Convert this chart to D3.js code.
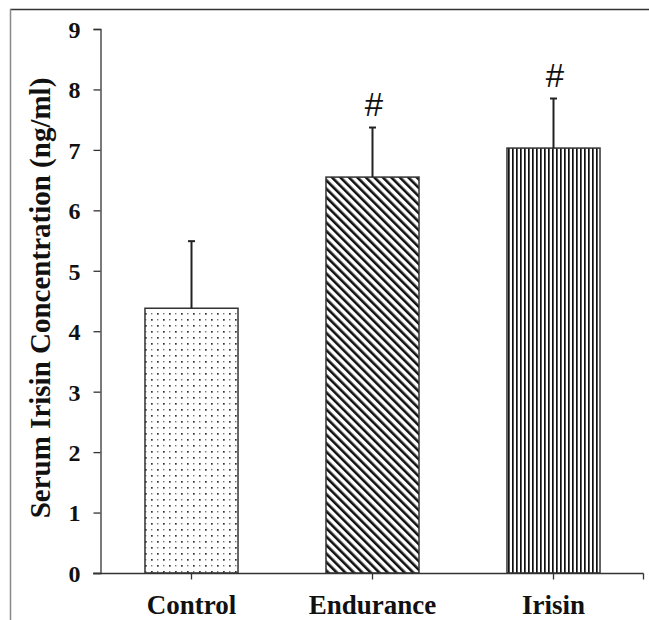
<!DOCTYPE html>
<html><head><meta charset="utf-8">
<script src="https://cdn.jsdelivr.net/npm/d3@7"></script>
<style>body{margin:0;background:#fff}svg{display:block}</style>
</head><body><svg id="c" width="649" height="620"></svg>
<script>
const categories = ["Control","Endurance","Irisin"];
const means = [4.38, 6.55, 7.03];
const errors = [1.11, 0.82, 0.82];
const marks = ["", "#", "#"];
const yTicks = [0,1,2,3,4,5,6,7,8,9];
const patterns = ["dots","diag","vert"];

const FONT = "'Liberation Serif','Times New Roman',serif";
const svg = d3.select("#c");
const defs = svg.append("defs");
// dots
const pd = defs.append("pattern").attr("id","dots").attr("patternUnits","userSpaceOnUse").attr("width",12).attr("height",12);
pd.append("rect").attr("width",12).attr("height",12).attr("fill","#fff");
[[1,1],[7,7]].forEach(([x,y])=>pd.append("rect").attr("x",x).attr("y",y).attr("width",1.7).attr("height",1.7).attr("fill","#333"));
[[7,1],[1,7]].forEach(([x,y])=>pd.append("rect").attr("x",x).attr("y",y).attr("width",1.4).attr("height",1.4).attr("fill","#777"));
// diagonal
const pg = defs.append("pattern").attr("id","diag").attr("patternUnits","userSpaceOnUse").attr("width",6).attr("height",6).attr("patternTransform","rotate(-45)");
pg.append("rect").attr("width",6).attr("height",6).attr("fill","#fff");
pg.append("rect").attr("x",0).attr("y",0).attr("width",2.6).attr("height",6).attr("fill","#111");
// vertical
const pv = defs.append("pattern").attr("id","vert").attr("patternUnits","userSpaceOnUse").attr("width",4).attr("height",4);
pv.append("rect").attr("width",4).attr("height",4).attr("fill","#fff");
pv.append("rect").attr("x",0).attr("y",0).attr("width",1.7).attr("height",4).attr("fill","#111");

// frame (cropped figure border)
svg.append("line").attr("x1",10).attr("x2",649).attr("y1",9.5).attr("y2",9.5).attr("stroke","#333").attr("stroke-width",1.5);
svg.append("line").attr("x1",10.5).attr("x2",10.5).attr("y1",9).attr("y2",620).attr("stroke","#888").attr("stroke-width",1.5);

const y = d3.scaleLinear().domain([0,9]).range([573,29]);
const x = d3.scaleBand().domain(categories).range([101,644]).paddingInner(0.486).paddingOuter(0.243);

// y axis
const ya = svg.append("g").attr("transform","translate(100.5,0)")
  .call(d3.axisLeft(y).tickValues(yTicks).tickSize(7).tickPadding(13).tickFormat(d3.format("d")));
ya.attr("font-size",null).attr("font-family",null);
ya.selectAll("path,line").attr("stroke","#333").attr("stroke-width",1.3);
ya.selectAll("text").style("font-size","24px").style("font-family",FONT).style("font-weight","bold").attr("fill","#111").attr("dy","0.35em");

// bars
svg.selectAll("rect.bar").data(categories).join("rect").attr("class","bar")
  .attr("x",d=>x(d)).attr("width",x.bandwidth())
  .attr("y",(d,i)=>y(means[i])).attr("height",(d,i)=>y(0)-y(means[i]))
  .attr("fill",(d,i)=>`url(#${patterns[i]})`).attr("stroke","#333").attr("stroke-width",1.5);

// error bars (upper only)
categories.forEach((c,i)=>{
  const cx = x(c)+x.bandwidth()/2;
  svg.append("line").attr("x1",cx).attr("x2",cx).attr("y1",y(means[i])).attr("y2",y(means[i]+errors[i])).attr("stroke","#222").attr("stroke-width",2);
  svg.append("line").attr("x1",cx-3.5).attr("x2",cx+3.5).attr("y1",y(means[i]+errors[i])).attr("y2",y(means[i]+errors[i])).attr("stroke","#222").attr("stroke-width",2);
  if(marks[i]) svg.append("text").attr("x",cx+1).attr("y",y(means[i]+errors[i])-12).attr("text-anchor","middle")
    .style("font-size","33px").style("font-style","italic").style("font-family","'Liberation Sans','DejaVu Sans',sans-serif").attr("fill","#111").text(marks[i]);
});

// x axis
const xa = svg.append("g").attr("transform","translate(0,573.5)");
xa.append("line").attr("x1",93).attr("x2",643.5).attr("y1",0).attr("y2",0).attr("stroke","#333").attr("stroke-width",1.3);
categories.forEach(c=>{
  const cx = x(c)+x.bandwidth()/2;
  xa.append("line").attr("x1",cx).attr("x2",cx).attr("y1",0).attr("y2",6).attr("stroke","#333").attr("stroke-width",1.3);
  xa.append("text").attr("x",cx).attr("y",40).attr("text-anchor","middle")
    .style("font-size","27px").style("font-family",FONT).style("font-weight","bold").attr("fill","#111").text(c);
});
xa.append("line").attr("x1",643.5).attr("x2",643.5).attr("y1",0).attr("y2",6).attr("stroke","#333").attr("stroke-width",1.3);

// y title
svg.append("text").attr("transform","translate(50,298) rotate(-90)").attr("text-anchor","middle")
  .style("font-size","29px").style("font-family",FONT).style("font-weight","bold").attr("fill","#111").text("Serum Irisin Concentration (ng/ml)");
</script></body></html>
